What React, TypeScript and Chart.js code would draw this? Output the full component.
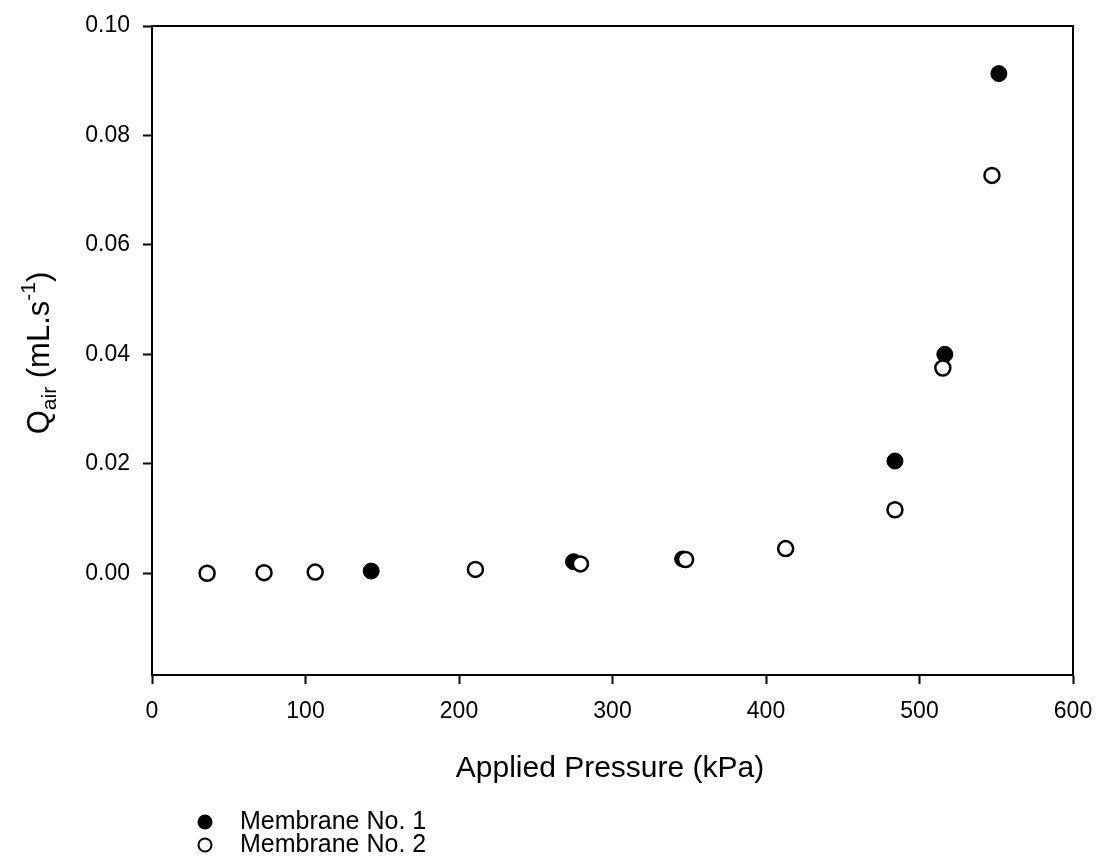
import React, { useEffect, useRef } from "react";
import { Chart, registerables } from "chart.js";

Chart.register(...registerables);

// Membrane No. 1 (filled circles)
const pressure1 = [142.8, 274.6, 345.7, 484, 516.5, 551.7];
const qair1 = [0.0004, 0.0021, 0.0026, 0.0205, 0.04, 0.0913];

// Membrane No. 2 (open circles)
const pressure2 = [35.9, 73, 106.3, 210.7, 279.1, 347.6, 412.8, 484, 515.2, 547.2];
const qair2 = [0.0, 0.0001, 0.0002, 0.0007, 0.0017, 0.0025, 0.0045, 0.0116, 0.0375, 0.0727];

const xTicks = [0, 100, 200, 300, 400, 500, 600];
const yTicks = [0.0, 0.02, 0.04, 0.06, 0.08, 0.1];

const seriesNames = ["Membrane No. 1", "Membrane No. 2"];
const xTitle = "Applied Pressure (kPa)";

const FONT = '"Liberation Sans", Arial, sans-serif';

const overlayPlugin = {
  id: "overlay",
  afterDraw(chart: any) {
    const ctx = chart.ctx as CanvasRenderingContext2D;
    const a = chart.chartArea;
    ctx.save();
    // top and right frame lines
    ctx.strokeStyle = "#000";
    ctx.lineWidth = 2;
    ctx.beginPath();
    ctx.moveTo(a.left, a.top);
    ctx.lineTo(a.right, a.top);
    ctx.lineTo(a.right, a.bottom);
    ctx.stroke();

    ctx.fillStyle = "#000";
    // x title
    ctx.font = `30px ${FONT}`;
    ctx.textAlign = "center";
    ctx.textBaseline = "alphabetic";
    ctx.fillText(xTitle, 610, 777);

    // y title with subscript / superscript
    const parts = [
      { t: "Q", size: 31, dy: 0 },
      { t: "air", size: 21, dy: 7 },
      { t: " (mL.s", size: 31, dy: 0 },
      { t: "-1", size: 21, dy: -14 },
      { t: ")", size: 31, dy: 0 },
    ];
    let total = 0;
    const widths: number[] = [];
    for (const p of parts) {
      ctx.font = `${p.size}px ${FONT}`;
      const w = ctx.measureText(p.t).width;
      widths.push(w);
      total += w;
    }
    ctx.save();
    ctx.translate(49, 353);
    ctx.rotate(-Math.PI / 2);
    ctx.textAlign = "left";
    let x = -total / 2;
    parts.forEach((p, i) => {
      ctx.font = `${p.size}px ${FONT}`;
      ctx.fillText(p.t, x, p.dy);
      x += widths[i];
    });
    ctx.restore();

    // legend
    ctx.textAlign = "left";
    ctx.textBaseline = "middle";
    ctx.font = `25px ${FONT}`;
    const rows = [822, 845];
    // filled
    ctx.beginPath();
    ctx.arc(205, rows[0], 7.5, 0, Math.PI * 2);
    ctx.fillStyle = "#000";
    ctx.fill();
    ctx.fillText(seriesNames[0], 240, rows[0]);
    // open
    ctx.beginPath();
    ctx.arc(205, rows[1], 6.5, 0, Math.PI * 2);
    ctx.fillStyle = "#fff";
    ctx.fill();
    ctx.lineWidth = 2;
    ctx.strokeStyle = "#000";
    ctx.stroke();
    ctx.fillStyle = "#000";
    ctx.fillText(seriesNames[1], 240, rows[1]);
    ctx.restore();
  },
};

export default function App() {
  const ref = useRef<HTMLCanvasElement | null>(null);
  useEffect(() => {
    if (!ref.current) return;
    const chart = new Chart(ref.current, {
      type: "scatter",
      data: {
        datasets: [
          {
            label: seriesNames[0],
            data: pressure1.map((x, i) => ({ x, y: qair1[i] })),
            pointRadius: 8,
            pointHoverRadius: 8,
            backgroundColor: "#000",
            borderColor: "#000",
            borderWidth: 1,
            order: 1,
          },
          {
            label: seriesNames[1],
            data: pressure2.map((x, i) => ({ x, y: qair2[i] })),
            pointRadius: 7.5,
            pointHoverRadius: 7.5,
            backgroundColor: "#fff",
            borderColor: "#000",
            borderWidth: 2.5,
            order: 0,
          },
        ],
      },
      options: {
        responsive: false,
        animation: false,
        layout: { padding: { left: 0, top: 26, right: 23, bottom: 88 } },
        plugins: { legend: { display: false }, tooltip: { enabled: false } },
        scales: {
          x: {
            type: "linear",
            min: 0,
            max: 600,
            afterBuildTicks: (s: any) => {
              s.ticks = xTicks.map((v) => ({ value: v }));
            },
            afterFit: (s: any) => {
              s.height = 100;
              s.paddingLeft = 0;
              s.paddingRight = 0;
            },
            ticks: {
              color: "#000",
              font: { family: FONT, size: 23 },
              padding: 14,
              maxRotation: 0,
              callback: (v: any) => String(v),
            },
            grid: {
              drawOnChartArea: false,
              drawTicks: true,
              tickLength: 9,
              tickWidth: 2,
              tickColor: "#000",
            },
            border: { display: true, color: "#000", width: 2 },
          },
          y: {
            type: "linear",
            min: -0.0186,
            max: 0.1,
            afterBuildTicks: (s: any) => {
              s.ticks = yTicks.map((v) => ({ value: v }));
            },
            afterFit: (s: any) => {
              s.width = 152;
              s.paddingTop = 0;
              s.paddingBottom = 0;
            },
            ticks: {
              color: "#000",
              font: { family: FONT, size: 23 },
              padding: 13,
              callback: (v: any) => Number(v).toFixed(2),
            },
            grid: {
              drawOnChartArea: false,
              drawTicks: true,
              tickLength: 9,
              tickWidth: 2,
              tickColor: "#000",
            },
            border: { display: true, color: "#000", width: 2 },
          },
        },
      },
      plugins: [overlayPlugin],
    });
    return () => chart.destroy();
  }, []);
  return (
    <div style={{ position: "fixed", left: 0, top: 0, width: 1096, height: 863, background: "#fff" }}>
      <canvas ref={ref} width={1096} height={863} style={{ display: "block" }} />
    </div>
  );
}
